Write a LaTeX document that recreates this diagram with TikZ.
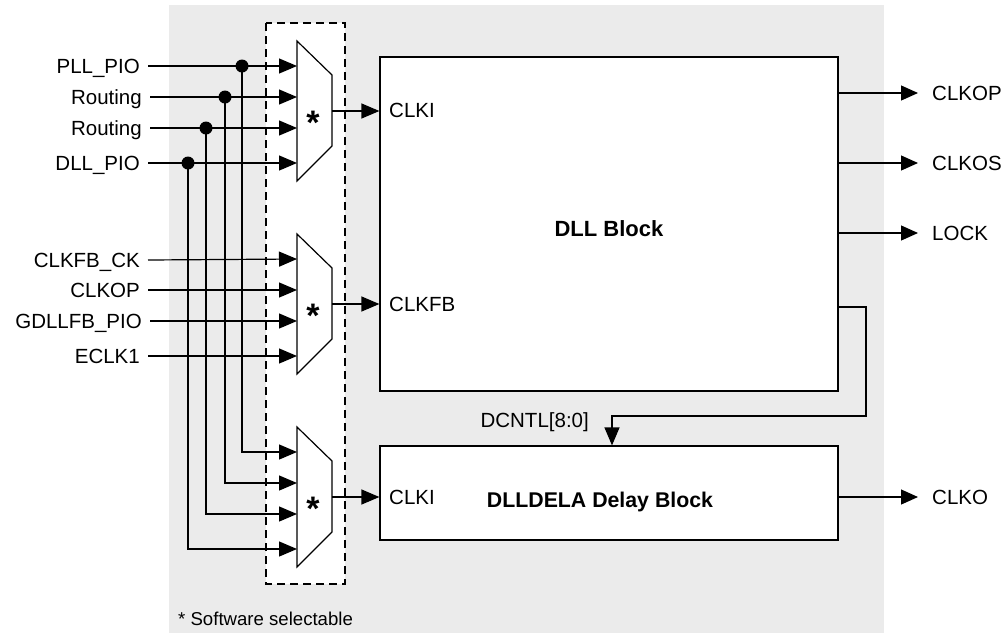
\documentclass[tikz,border=0pt]{standalone}
\usepackage{fontspec}
\setmainfont{Liberation Sans}
\usetikzlibrary{arrows.meta}

\tikzset{
  wire/.style={line width=1.2pt},
  sig/.style={wire, -{Triangle[length=18pt,width=15pt]}},
  osig/.style={wire, -{Triangle[length=17pt,width=15pt]}, shorten >=11pt},
  lbl/.style={font=\fontsize{20.5}{24}\selectfont, inner sep=3pt,
    text height=14.6pt, text depth=0pt},
  inlbl/.style={lbl, anchor=east, inner xsep=8pt},
  bold/.style={font=\fontsize{22}{26}\selectfont\bfseries, inner sep=0pt},
  block/.style={draw, line width=1.2pt, fill=white, inner sep=0pt},
}

\begin{document}
\begin{tikzpicture}[x=1pt,y=-1pt]
  \useasboundingbox (0,0) rectangle (1006,633);
  \fill[gray!16] (169,5) rectangle (884,633);
  \draw[wire, dash pattern=on 8pt off 5pt, fill=white] (266,23) rectangle (345,584);

  % the three selectors
  \foreach \m/\y in {ma/41,mb/234,mc/427}{
    \draw[wire] (297,\y) -- (332,\y+34) -- (332,\y+105) -- (297,\y+140) -- cycle;
    \node[font=\fontsize{34}{34}\selectfont\bfseries, inner sep=0pt] (\m-star) at (313,\y+82) {*};
    \coordinate (\m-1) at (297,\y+25);
    \coordinate (\m-2) at (297,\y+56);
    \coordinate (\m-3) at (297,\y+87);
    \coordinate (\m-4) at (297,\y+122);
    \coordinate (\m-o) at (332,\y+70);
  }

  % blocks
  \node[block, minimum width=458pt, minimum height=334pt] (dll) at (609,224) {};
  \node[bold] (dlltxt) at (609,229) {DLL Block};
  \node[block, minimum width=458pt, minimum height=94pt] (dly) at (609,493) {};
  \node[bold, font=\fontsize{21.3}{26}\selectfont\bfseries] (dlytxt) at (600,502) {DLLDELA Delay Block};
  \node[lbl, anchor=west] (clki) at (386,110) {CLKI};
  \node[lbl, anchor=west] (clkfb) at (386,304) {CLKFB};
  \node[lbl, anchor=west] (clkid) at (386,497) {CLKI};

  % inputs
  \node[inlbl] (pll) at (148,66) {PLL\_PIO};
  \node[inlbl] (rta) at (150,97) {Routing};
  \node[inlbl] (rtb) at (150,128) {Routing};
  \node[inlbl] (dllpio) at (148,163) {DLL\_PIO};
  \node[inlbl] (fbck) at (148,260) {CLKFB\_CK};
  \node[inlbl] (fbop) at (148,290) {CLKOP};
  \node[inlbl] (gdll) at (150,321) {GDLLFB\_PIO};
  \node[inlbl] (eclk) at (148,356) {ECLK1};

  \draw[sig] (pll.east) -- (ma-1);
  \draw[sig] (rta.east) -- (ma-2);
  \draw[sig] (rtb.east) -- (ma-3);
  \draw[sig] (dllpio.east) -- (ma-4);
  \draw[sig] (fbck.east) -- (mb-1);
  \draw[sig] (fbop.east) -- (mb-2);
  \draw[sig] (gdll.east) -- (mb-3);
  \draw[sig] (eclk.east) -- (mb-4);

  % taps to the lower selector
  \coordinate (ja) at (242,66);
  \coordinate (jb) at (225,97);
  \coordinate (jc) at (206,128);
  \coordinate (jd) at (188,163);
  \draw[sig] (ja) |- (mc-1);
  \draw[sig] (jb) |- (mc-2);
  \draw[sig] (jc) |- (mc-3);
  \draw[sig] (jd) |- (mc-4);
  \foreach \j in {ja,jb,jc,jd} \fill (\j) circle (6.5);

  % selector outputs
  \draw[sig] (ma-o) -- (ma-o -| dll.west);
  \draw[sig] (mb-o) -- (mb-o -| dll.west);
  \draw[sig] (mc-o) -- (mc-o -| dly.west);

  % outputs
  \node[lbl, anchor=west] (clkop) at (929,93) {CLKOP};
  \node[lbl, anchor=west] (clkos) at (929,163) {CLKOS};
  \node[lbl, anchor=west] (lock) at (929,233) {LOCK};
  \node[lbl, anchor=west] (clko) at (929,497) {CLKO};
  \foreach \n in {clkop,clkos,lock} \draw[osig] (dll.east |- \n.west) -- (\n.west);
  \draw[osig] (dly.east |- clko.west) -- (clko.west);

  % delay control
  \coordinate (fb) at (866,416);
  \draw[sig] (dll.east |- 0,307) -| (fb) -| ([xshift=3pt]dly.north);
  \node[lbl, anchor=east] (dcntl) at (592,420) {DCNTL[8:0]};

  \node[font=\fontsize{18.6}{20}\selectfont, anchor=west, inner sep=0pt] (note) at (178,619) {* Software selectable};
\end{tikzpicture}
\end{document}
